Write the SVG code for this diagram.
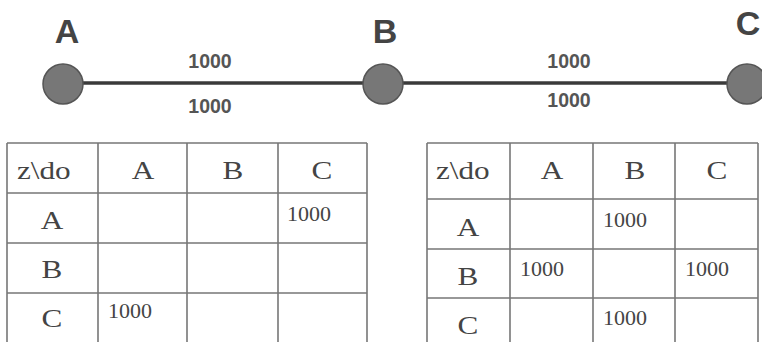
<svg xmlns="http://www.w3.org/2000/svg" width="762" height="342" viewBox="0 0 762 342">
<style>
.node{fill:#777;stroke:#555;stroke-width:1.5}
.edge{stroke:#3a3a3a;stroke-width:3.5}
.nl{font-family:"Liberation Sans",Arial,sans-serif;font-weight:bold;font-size:34px;fill:#444;text-anchor:middle}
.el{font-family:"Liberation Sans",Arial,sans-serif;font-weight:bold;font-size:19.5px;fill:#555;text-anchor:middle}
.grid{fill:none;stroke:#777;stroke-width:1.6}
.th{font-family:"Liberation Serif","Times New Roman",serif;font-size:26px;fill:#444;text-anchor:middle}
.tl{font-family:"Liberation Serif","Times New Roman",serif;font-size:26px;fill:#444}
.v{font-family:"Liberation Serif","Times New Roman",serif;font-size:22px;fill:#444}
</style>
<rect width="762" height="342" fill="#fff"/>
<g id="connectors">
<line class="edge" x1="63" y1="83" x2="383" y2="83"/>
<line class="edge" x1="383" y1="83" x2="747" y2="83"/>
<text class="el" x="210" y="68">1000</text>
<text class="el" x="210" y="113">1000</text>
<text class="el" x="569" y="68">1000</text>
<text class="el" x="569" y="107">1000</text>
</g>
<g id="nodeA"><circle class="node" cx="63" cy="84" r="20"/><text class="nl" x="67" y="43">A</text></g>
<g id="nodeB"><circle class="node" cx="383" cy="84" r="20"/><text class="nl" x="385" y="43">B</text></g>
<g id="nodeC"><circle class="node" cx="747" cy="84" r="20"/><text class="nl" x="748" y="35">C</text></g>
<g id="table1">
<path class="grid" d="M7,143H367M7,193H367M7,243H367M7,293H367M7,143V342M98,143V342M187,143V342M278,143V342M367,143V342"/>
<text class="tl" transform="translate(17,179) scale(1.2,1)">z\do</text>
<text class="th" transform="translate(143,179) scale(1.2,1)">A</text>
<text class="th" transform="translate(233,179) scale(1.2,1)">B</text>
<text class="th" transform="translate(322,179) scale(1.2,1)">C</text>
<text class="th" transform="translate(52,229) scale(1.2,1)">A</text>
<text class="th" transform="translate(52,278) scale(1.2,1)">B</text>
<text class="th" transform="translate(52,327) scale(1.2,1)">C</text>
<text class="v" x="287" y="221">1000</text>
<text class="v" x="108" y="318">1000</text>
</g>
<g id="table2">
<path class="grid" d="M427,143H758M427,199H758M427,249H758M427,298H758M427,143V342M510,143V342M593,143V342M675,143V342M758,143V342"/>
<text class="tl" transform="translate(436,179) scale(1.2,1)">z\do</text>
<text class="th" transform="translate(552,179) scale(1.2,1)">A</text>
<text class="th" transform="translate(635,179) scale(1.2,1)">B</text>
<text class="th" transform="translate(717,179) scale(1.2,1)">C</text>
<text class="th" transform="translate(468,236) scale(1.2,1)">A</text>
<text class="th" transform="translate(468,285) scale(1.2,1)">B</text>
<text class="th" transform="translate(468,334) scale(1.2,1)">C</text>
<text class="v" x="603" y="227">1000</text>
<text class="v" x="520" y="276">1000</text>
<text class="v" x="685" y="276">1000</text>
<text class="v" x="603" y="325">1000</text>
</g>
</svg>
